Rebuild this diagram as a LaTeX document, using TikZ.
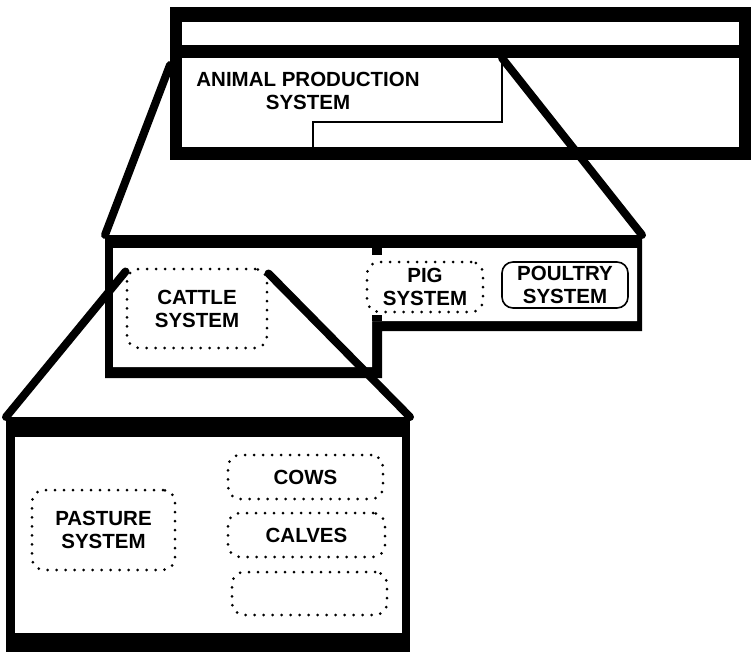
\documentclass[tikz,border=0pt]{standalone}
\usepackage{fontspec}
\setmainfont{Liberation Sans}
\usetikzlibrary{calc}
\newcommand\syslabel{\fontsize{20.5}{23}\selectfont\bfseries}

\begin{document}
\begin{tikzpicture}[
    x=1pt, y=-1pt,
    frame/.style={rectangle, fill=black, inner sep=0pt, outer sep=0pt},
    hole/.style={rectangle, fill=white, inner sep=0pt, outer sep=0pt},
    sysbox/.style={rectangle, draw=black, rounded corners=12pt, line width=3pt,
                   dash pattern=on 0pt off 9pt, line cap=round, inner sep=0pt,
                   align=center, font=\syslabel},
    solidbox/.style={rectangle, draw=black, rounded corners=11pt, line width=1.6pt,
                     inner sep=0pt, align=center, font=\syslabel},
    zoomline/.style={line width=8pt, line cap=round},
    thinline/.style={line width=1.4pt}
]
\useasboundingbox (0,0) rectangle (751,652);

% Top box
\node[frame, minimum width=582pt, minimum height=153pt] (topframe) at (461,83.5) {};
\node[hole, minimum width=557pt, minimum height=23pt] (topstrip) at (460.5,33.5) {};
\node[hole, minimum width=557pt, minimum height=89pt] (toprow) at (460.5,102.5) {};
\coordinate (apsnotch) at (502,58);
\draw[thinline] (apsnotch) -- (502,122) -- (313,122) -- (313,147);
\node[font=\syslabel, align=center] (aps) at (308,90.5) {ANIMAL PRODUCTION\\SYSTEM};

% Middle box (L shape)
\coordinate (midNW) at (105,235);
\coordinate (midNE) at (642,235);
\fill (midNW) -- (midNE) -- (642,331) -- (382,331) -- (382,378) -- (105,378) -- cycle;
\fill[white] (113,248) -- (637,248) -- (637,321) -- (372,321) -- (372,367) -- (113,367) -- cycle;
\fill (372,248) rectangle (382,255);
\fill (372,315) rectangle (382,321);

\node[sysbox, minimum width=140pt, minimum height=79pt] (cattle) at (197,308.5) {CATTLE\\SYSTEM};
\node[sysbox, minimum width=116pt, minimum height=50pt] (pig) at (425,287) {PIG\\SYSTEM};
\node[solidbox, minimum width=126pt, minimum height=46pt] (poultry) at (565,285) {POULTRY\\SYSTEM};

% Bottom box
\node[frame, minimum width=404pt, minimum height=236pt] (botframe) at (208,535) {};
\node[hole, minimum width=387pt, minimum height=196pt] (botinner) at (208.5,535) {};

\node[sysbox, minimum width=143pt, minimum height=80pt] (pasture) at (103.5,530) {PASTURE\\SYSTEM};
\node[sysbox, minimum width=155pt, minimum height=44pt] (cows) at (305.5,477) {COWS};
\node[sysbox, minimum width=157pt, minimum height=44pt] (calves) at (306.5,535) {CALVES};
\node[sysbox, minimum width=155pt, minimum height=43pt] (spare) at (309.5,593.5) {};

% Zoom lines
\coordinate (topleft) at (170,65);
\draw[zoomline] (topleft) -- (midNW);
\draw[zoomline] (apsnotch) -- (midNE);
\draw[zoomline] ([yshift=-4pt]cattle.north west) -- (botframe.north west);
\draw[zoomline] ([yshift=-6pt]cattle.north east) -- (botframe.north east);

\end{tikzpicture}
\end{document}
